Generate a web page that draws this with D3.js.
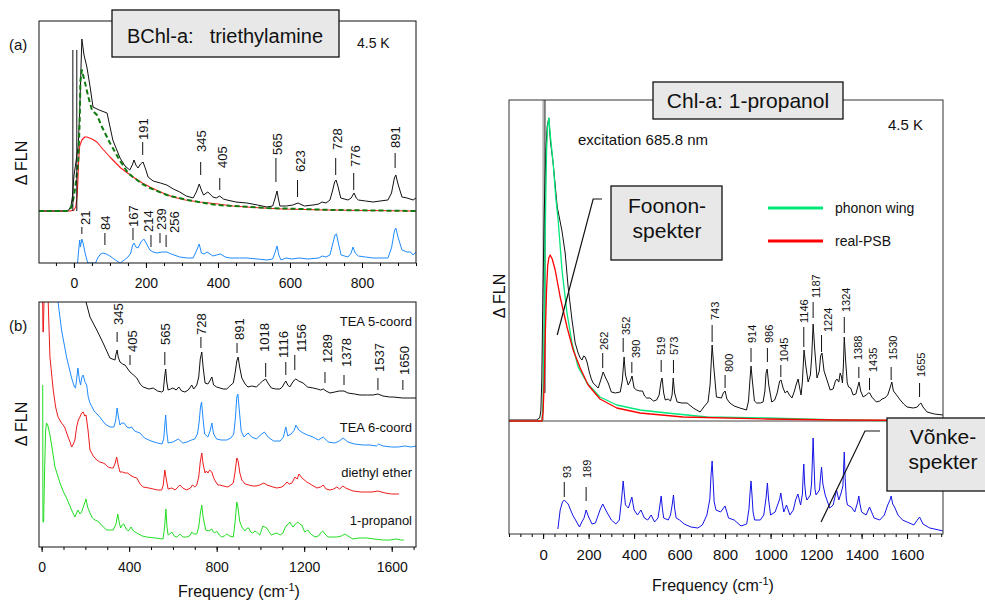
<!DOCTYPE html>
<html>
<head>
<meta charset="utf-8">
<script src="https://cdn.jsdelivr.net/npm/d3@7"></script>
<style>
body { margin: 0; background: #fff; }
</style>
</head>
<body>
<div id="figure"></div>
<script>
const font_family = 'Arial, "Liberation Sans", Helvetica, sans-serif';
const width = 985, height = 600;

// ---- panel (a): BChl-a in triethylamine, 4.5 K ----
const a_major_ticks = [0, 200, 400, 600, 800];
const a_zpl_lines = [-3, 8];
const a_zpl_height = 16.1;
const a_fln = [[-97,0],[-40,0],[-20,0],[-14,0.1],[-8,0.5],[-4,1.5],[0,3.5],[6,5],[12,6.5],[16,10],[22,17.2],[28,15.6],[36,14.4],[45,12.4],[53,10.4],[70,10.1],[92,9.8],[108,7.1],[118,6.2],[128,5.3],[142,4.5],[155,4.1],[162,4.6],[167,5.1],[172,4.6],[178,4.3],[185,4.7],[192,4.9],[199,4.2],[206,3.4],[220,3.0],[240,2.8],[258,2.6],[276,2.2],[294,1.9],[312,1.5],[331,1.3],[340,1.9],[348,2.7],[355,2.0],[360,1.6],[372,1.9],[386,1.4],[395,1.3],[405,1.5],[415,1.2],[425,1.1],[450,0.9],[480,0.8],[510,0.6],[536,0.4],[552,0.5],[558,1.2],[564,2.0],[568,1.2],[572,0.5],[590,0.5],[608,0.6],[622,0.8],[640,0.5],[664,0.6],[680,0.7],[689,0.9],[700,0.8],[711,1.1],[718,2.0],[724,2.9],[728,3.1],[733,2.5],[741,1.3],[761,1.1],[770,1.3],[778,1.8],[784,1.3],[790,1.1],[810,1.0],[831,0.9],[850,1.0],[872,1.1],[882,1.8],[890,3.3],[894,3.6],[900,2.7],[911,1.4],[925,1.3],[942,1.1],[950,1.3]];
const a_phonon_wing = [[-97,0],[-20,0],[-12,0.1],[-6,0.5],[0,1.5],[6,3],[12,5],[16,9],[18,13],[22,14.1],[31,12.8],[40,11.4],[50,10.1],[64,9.6],[78,8.4],[100,6.8],[114,5.9],[128,5.0],[136,4.6],[150,3.8],[164,3.4],[190,2.7],[211,2.3],[258,1.6],[314,1.1],[397,0.6],[536,0.3],[722,0.1],[950,0]];
const a_real_psb = [[-97,0],[-10,0],[0,0.1],[5,0.4],[9,1.5],[11,3],[13,5],[16,6.5],[22,7.1],[30,7.4],[36,7.4],[50,7.2],[64,6.9],[80,6.2],[100,5.4],[130,4.3],[164,3.4],[190,2.8],[211,2.4],[240,1.9],[275,1.4],[310,1.1],[350,0.9],[400,0.7],[442,0.5],[500,0.35],[581,0.2],[700,0.1],[950,0]];
const a_vibronic_offset = -5.2;
const a_vibronic = [[10,0],[13,1.2],[16,2.3],[18,1.6],[22,2.4],[26,1.9],[31,1.0],[36,0.3],[39,0],[60,0],[66,0.5],[74,0.9],[81,1.0],[90,0.9],[100,0.7],[115,0.3],[128,0],[140,0.3],[150,0.6],[158,1.0],[163,1.8],[167,2.0],[172,1.6],[178,1.5],[186,2.1],[194,2.4],[202,1.9],[211,1.3],[220,1.1],[231,1.0],[245,1.1],[258,1.1],[270,0.9],[294,0.6],[315,0.5],[331,0.5],[340,1.2],[348,1.9],[354,1.0],[361,0.9],[370,1.1],[386,0.7],[396,0.8],[407,0.9],[420,0.6],[433,0.5],[460,0.5],[480,0.5],[510,0.4],[536,0.3],[552,0.4],[559,1.1],[564,1.7],[569,0.8],[575,0.3],[589,0.5],[605,0.4],[625,0.5],[650,0.4],[680,0.5],[690,0.7],[700,0.6],[711,0.8],[718,1.8],[725,2.8],[729,2.9],[735,1.9],[742,0.8],[761,0.6],[770,1.0],[775,1.6],[781,1.0],[790,0.7],[810,0.6],[831,0.5],[850,0.5],[872,0.5],[882,1.5],[890,3.2],[894,3.5],[900,2.6],[911,1.3],[925,1.1],[935,1.1],[942,0.8],[950,1.1]];
// [label, line freq, text freq, text level, line top, line bottom]
const a_peak_labels = [
  ['191',191,194,7.1,6.9,5.6],['345',352,355,5.9,4.9,3.6],['405',405,413,4.3,3.3,2.1],
  ['565',561,565,5.6,5.3,2.9],['623',621,628,3.9,3.1,1.4],['728',727,731,6.1,5.3,3.6],
  ['776',777,782,4.4,3.8,2.1],['891',892,894,6.3,5.8,4.3],
  ['21',22,31,-1.4,-1.6,-2.3],['84',86,88,-1.9,-2.2,-3.4],['167',164,166,-1.6,-1.7,-2.9],
  ['214',214,206,-2.1,-2.4,-3.6],['239',239,244,-1.9,-2.2,-3.2],['256',256,280,-2.2,-2.4,-3.6]
];

// ---- panel (b): BChl-a in four solvents ----
const b_major_ticks = [0, 400, 800, 1200, 1600];
const b_solvents = ['TEA 5-coord', 'TEA 6-coord', 'diethyl ether', '1-propanol'];
const b_tea5 = [[196,26],[203,24.5],[221,23],[252,21.7],[281,20.4],[312,18.9],[335,18.7],[340,19.3],[345,19.7],[350,19.0],[358,18.5],[370,18.3],[381,18.2],[404,17.5],[420,17.2],[435,16.9],[450,16.3],[464,16.0],[490,15.8],[510,15.9],[530,15.6],[549,15.5],[556,15.6],[562,17.0],[567,17.8],[572,16.5],[578,15.7],[590,15.8],[600,15.9],[615,15.7],[627,16.0],[640,15.6],[655,15.5],[670,15.7],[680,16.0],[686,16.2],[695,15.8],[709,16.2],[718,17.0],[725,18.8],[732,19.5],[738,18.0],[747,16.4],[760,16.3],[771,16.7],[778,17.0],[786,16.2],[800,16.0],[815,15.9],[830,15.8],[846,15.8],[860,16.1],[876,16.4],[885,17.5],[892,18.6],[898,19.0],[905,18.0],[915,16.9],[930,16.3],[943,16.0],[960,16.1],[982,16.0],[995,16.3],[1010,16.6],[1024,16.8],[1037,16.3],[1050,15.9],[1070,15.8],[1089,15.8],[1100,16.0],[1110,16.4],[1116,16.6],[1125,16.2],[1134,16.0],[1145,16.4],[1155,16.7],[1162,16.8],[1175,16.6],[1195,16.4],[1215,16.0],[1241,15.9],[1260,15.8],[1275,15.7],[1287,15.8],[1300,15.6],[1318,15.4],[1340,15.5],[1360,15.6],[1382,15.6],[1400,15.4],[1430,15.3],[1455,15.2],[1490,15.2],[1515,15.2],[1537,15.3],[1560,15.1],[1590,15.0],[1607,15.0],[1650,14.9],[1680,14.9],[1711,14.9]];
const b_tea6 = [[70,26],[75,24.5],[91,21.7],[114,19.0],[137,16.9],[150,16.0],[155,15.9],[160,16.8],[166,17.9],[172,16.8],[178,16.2],[184,17.0],[190,17.2],[198,16.5],[206,16.2],[213,15.0],[221,14.4],[240,13.6],[266,13.0],[290,12.3],[312,12.0],[330,12.0],[338,12.6],[345,13.9],[351,13.0],[358,12.2],[366,12.4],[376,12.4],[390,12.0],[400,11.9],[411,12.0],[425,11.6],[449,11.4],[470,10.9],[500,10.6],[530,10.4],[550,10.3],[558,10.8],[563,12.2],[567,13.2],[572,11.5],[578,10.4],[600,10.5],[625,10.8],[645,10.4],[665,10.5],[685,10.7],[700,10.8],[712,11.3],[720,12.5],[726,14.0],[731,14.5],[737,13.0],[745,11.3],[760,11.0],[770,11.6],[778,12.4],[786,11.3],[800,10.8],[820,10.7],[846,10.7],[865,10.9],[878,11.3],[886,13.0],[892,15.0],[897,15.3],[903,13.8],[912,11.6],[925,11.0],[943,11.4],[960,11.0],[982,10.8],[1000,11.2],[1018,11.5],[1035,11.0],[1060,10.6],[1090,10.6],[1105,11.0],[1116,12.0],[1125,11.1],[1140,11.3],[1155,11.7],[1162,12.2],[1175,11.7],[1195,11.4],[1215,11.2],[1240,11.0],[1265,10.7],[1287,11.0],[1310,10.5],[1340,10.4],[1360,10.6],[1378,10.9],[1400,10.5],[1430,10.3],[1470,10.2],[1500,10.2],[1530,10.1],[1540,10.3],[1560,10.1],[1600,10.0],[1630,10.0],[1660,10.1],[1690,10.0],[1711,10.1]];
const b_ether = [[4,26],[6,21.5],[8,21.5],[12,26],[26,26],[30,24.5],[38,19.0],[47,17],[53,15.7],[64,14.0],[75,13.0],[91,12.4],[105,12.0],[121,11.0],[130,10.5],[137,10.0],[145,10.3],[152,10.7],[160,12.0],[168,12.7],[175,13.0],[183,13.4],[190,13.5],[197,13.1],[203,13.2],[212,11.7],[221,9.7],[236,9.1],[252,8.7],[266,8.5],[281,8.4],[290,8.3],[304,8.0],[320,7.9],[327,7.9],[335,8.3],[343,9.0],[350,8.2],[358,7.5],[370,7.5],[381,7.4],[393,7.4],[404,7.2],[420,7.0],[435,6.9],[450,6.3],[464,6.0],[490,5.9],[510,5.8],[530,5.7],[549,5.7],[556,6.2],[563,7.7],[568,7.0],[578,5.8],[595,5.9],[610,5.7],[632,6.2],[645,5.9],[663,5.7],[680,5.9],[690,6.2],[700,6.0],[709,6.2],[718,7.0],[725,8.5],[732,9.4],[738,8.3],[747,7.4],[753,7.6],[760,7.4],[768,7.7],[778,7.5],[785,7.0],[791,6.7],[805,6.2],[814,6.2],[830,6.1],[851,6.0],[865,6.2],[876,6.4],[884,7.5],[892,8.9],[898,8.6],[906,7.4],[915,6.7],[930,6.3],[947,6.2],[965,6.1],[980,6.1],[997,6.2],[1016,6.4],[1030,6.2],[1057,6.0],[1075,5.9],[1098,6.0],[1110,6.2],[1121,6.5],[1132,6.3],[1144,6.4],[1158,7.0],[1168,6.8],[1176,7.3],[1190,6.9],[1212,6.5],[1235,6.2],[1258,5.9],[1275,6.0],[1287,6.2],[1300,5.8],[1318,5.7],[1335,5.8],[1349,6.0],[1362,5.8],[1377,6.1],[1390,5.9],[1423,5.6],[1460,5.5],[1486,5.5],[1510,5.5],[1537,5.6],[1570,5.4],[1600,5.3],[1633,5.3]];
const b_propanol = [[5,16.2],[6,2.5],[9,2.5],[14,8],[18,11.5],[22,12.4],[28,12.2],[38,11.2],[47,10.0],[61,8.0],[84,6.4],[100,5.5],[114,4.9],[137,3.7],[152,3.0],[160,3.4],[166,3.7],[175,3.3],[183,3.5],[195,4.3],[203,4.8],[210,4.0],[221,3.4],[232,2.9],[244,2.7],[255,2.6],[266,2.4],[282,2.0],[298,1.7],[315,1.7],[327,1.7],[340,2.3],[348,3.3],[355,2.4],[361,1.9],[368,2.2],[376,2.3],[386,1.8],[396,1.6],[409,2.0],[420,1.6],[435,1.4],[460,1.1],[480,1.0],[520,0.9],[555,0.8],[562,2.0],[568,3.8],[573,2.0],[578,1.2],[586,1.3],[595,1.5],[606,1.1],[618,1.0],[632,1.3],[645,1.0],[663,1.0],[676,1.1],[686,1.5],[695,1.3],[709,1.3],[718,2.0],[725,3.3],[732,4.2],[738,3.0],[750,1.7],[765,1.6],[778,1.8],[785,1.5],[791,1.4],[800,1.6],[812,1.2],[823,1.0],[835,1.1],[846,1.3],[860,1.1],[876,1.0],[884,2.5],[892,4.5],[897,4.0],[905,2.6],[915,2.0],[929,1.6],[940,1.9],[947,1.9],[955,1.5],[965,1.4],[975,1.6],[982,1.5],[997,1.2],[1005,1.7],[1011,2.1],[1020,2.0],[1029,1.9],[1040,1.5],[1050,1.2],[1062,1.3],[1075,1.4],[1090,1.2],[1103,1.4],[1112,1.9],[1121,2.2],[1128,2.3],[1134,2.5],[1142,2.2],[1149,2.0],[1160,2.3],[1171,2.5],[1180,2.3],[1189,2.2],[1196,1.8],[1203,1.5],[1210,1.6],[1217,1.7],[1230,1.3],[1249,1.0],[1265,1.1],[1279,1.5],[1285,1.6],[1295,1.3],[1309,1.0],[1330,1.0],[1349,1.0],[1370,1.1],[1386,1.3],[1400,1.1],[1423,0.8],[1450,0.9],[1486,0.9],[1520,0.8],[1560,0.7],[1590,0.7],[1623,0.8],[1640,0.7],[1655,0.7]];
const b_solvent_label_levels = [22.1, 11.5, 7.0, 2.2];
const b_peak_labels = [
  ['345',345,349,22.2,21.5,20.5],['405',404,417,19.5,19.2,18.2],['565',563,567,20.2,19.5,18.2],
  ['728',728,732,21.2,21.0,19.9],['891',893,903,20.7,20.4,19.4],['1018',1024,1020,19.5,18.4,17.0],
  ['1116',1116,1103,18.9,18.5,17.2],['1156',1157,1189,19.5,19.2,17.7],['1289',1295,1304,18.4,17.5,16.4],
  ['1378',1382,1395,18.0,17.2,16.2],['1537',1537,1546,17.5,16.9,15.7],['1650',1651,1656,17.2,16.7,15.7]
];

// ---- right panel: Chl-a in 1-propanol ----
const r_major_ticks = [0, 200, 400, 600, 800, 1000, 1200, 1400, 1600];
const r_upper_offset = 11.3;
const r_zpl_bottom = 2.8;
const r_fln = [[-150,0.1],[-30,0.1],[-15,0.3],[-10,1],[-6,4],[-3,9],[0,14],[5,21],[12,27],[18,29.5],[25,30.3],[32,28],[44,25.8],[62,21.4],[70,20.5],[83,19.0],[97,16.8],[110,13.4],[127,10.1],[141,7.8],[154,6.8],[163,6.3],[171,6.1],[178,6.5],[185,6.4],[193,5.9],[203,4.9],[212,4.2],[220,3.8],[242,3.3],[252,4.0],[264,4.9],[275,4.3],[286,3.8],[300,2.9],[317,2.8],[339,2.9],[348,4.0],[356,6.4],[362,4.6],[374,3.6],[383,4.0],[391,4.5],[400,3.3],[411,3.1],[425,3.0],[437,3.0],[446,2.5],[455,2.3],[470,2.3],[485,2.0],[499,2.1],[510,2.6],[518,3.9],[523,4.3],[530,2.8],[537,2.1],[550,2.2],[560,2.0],[567,2.6],[572,4.3],[578,2.8],[589,1.9],[610,1.8],[633,1.8],[660,1.3],[690,0.9],[710,1.5],[725,1.9],[734,3.6],[743,7.6],[750,5.5],[762,2.4],[784,2.3],[792,2.8],[800,3.0],[808,2.2],[821,1.8],[840,1.5],[865,1.3],[894,1.1],[903,2.0],[909,4.0],[914,5.5],[920,4.0],[929,2.0],[939,1.8],[955,1.8],[967,1.9],[975,3.0],[980,4.8],[985,5.2],[992,3.6],[1005,1.9],[1018,2.1],[1029,2.8],[1040,4.0],[1046,4.1],[1055,3.3],[1064,2.8],[1073,3.0],[1083,2.6],[1094,2.3],[1105,3.0],[1112,3.6],[1121,4.2],[1128,3.3],[1134,2.6],[1140,4.0],[1147,7.1],[1155,5.5],[1165,3.9],[1175,4.6],[1181,6.5],[1187,9.7],[1194,7.2],[1204,4.3],[1214,5.0],[1220,6.5],[1226,6.8],[1235,5.0],[1248,4.1],[1262,3.1],[1275,3.2],[1285,4.0],[1292,4.2],[1300,3.9],[1306,4.8],[1312,4.4],[1316,3.8],[1320,5.5],[1324,8.4],[1330,6.0],[1337,3.8],[1343,3.4],[1352,3.3],[1363,2.6],[1375,2.7],[1382,3.3],[1389,3.9],[1396,3.0],[1407,2.4],[1420,2.6],[1430,2.8],[1436,2.8],[1445,2.4],[1465,1.9],[1480,2.0],[1490,2.2],[1502,2.3],[1515,2.6],[1525,3.3],[1533,3.9],[1540,3.0],[1554,2.6],[1570,2.1],[1585,1.7],[1600,1.4],[1627,1.3],[1645,1.4],[1655,1.7],[1661,1.8],[1670,1.4],[1688,0.9],[1720,0.7],[1758,0.6]];
const r_phonon_wing = [[-150,0],[-5,0],[0,2],[5,10],[10,20],[15,27],[20,29.5],[25,30.3],[32,28.5],[44,25.8],[55,22.5],[66,20.1],[83,15.1],[105,10.8],[127,7.8],[154,5.4],[193,3.8],[250,2.4],[324,1.6],[426,1.1],[545,0.8],[721,0.4],[985,0.3],[1300,0.1],[1758,0]];
const r_real_psb = [[-150,0],[-5,0],[0,1],[5,4],[10,9],[15,13],[20,15.5],[25,16.3],[31,16.6],[40,16.2],[53,15.1],[75,12.4],[105,9.4],[132,7.1],[163,5.3],[198,3.6],[250,2.2],[324,1.3],[426,0.8],[615,0.4],[985,0.2],[1300,0.1],[1758,0.05]];
const r_vibronic = [[65,0.5],[75,2.4],[85,3.2],[93,3.4],[110,3.0],[130,1.9],[150,1.1],[160,0.7],[170,1.2],[180,1.6],[189,2.4],[200,1.7],[215,1.0],[230,1.1],[250,2.4],[262,3.0],[280,2.2],[300,1.4],[320,1.0],[335,1.4],[345,3.5],[352,5.3],[358,3.8],[362,2.9],[375,2.6],[390,3.7],[400,2.4],[415,1.9],[430,2.4],[445,1.6],[460,1.4],[475,1.9],[490,1.2],[505,1.6],[513,2.8],[519,3.8],[524,2.6],[530,1.6],[550,1.4],[560,1.9],[568,3.0],[573,3.9],[578,2.6],[585,1.6],[600,1.4],[620,1.0],[650,0.7],[680,0.6],[700,0.9],[720,1.9],[733,3.5],[738,5.8],[743,7.3],[747,5.5],[752,3.2],[760,2.4],[780,2.2],[800,2.8],[815,1.6],[840,1.4],[870,0.8],[895,1.0],[905,2.5],[910,4.2],[914,5.3],[918,4.0],[923,2.2],[930,1.4],[955,1.4],[970,1.9],[980,3.6],[986,5.1],[991,3.5],[1000,1.9],[1020,2.2],[1040,3.5],[1045,4.1],[1052,3.0],[1058,2.2],[1070,2.9],[1085,1.9],[1100,2.4],[1110,3.4],[1120,4.0],[1132,2.9],[1140,4.0],[1143,5.8],[1146,7.0],[1150,5.0],[1155,3.8],[1160,3.4],[1175,3.9],[1180,5.0],[1184,7.5],[1187,9.6],[1191,7.0],[1195,4.5],[1200,3.9],[1215,4.4],[1220,5.8],[1224,6.7],[1230,5.0],[1240,3.9],[1260,2.6],[1275,2.9],[1290,4.4],[1300,3.4],[1310,4.1],[1318,4.8],[1321,6.5],[1324,8.2],[1328,5.5],[1333,3.5],[1338,2.9],[1355,2.7],[1370,2.2],[1383,3.2],[1388,3.8],[1393,3.0],[1400,2.2],[1420,1.9],[1435,2.7],[1455,1.6],[1480,1.4],[1500,1.9],[1515,2.9],[1525,3.4],[1530,3.8],[1537,3.0],[1545,2.7],[1560,1.9],[1580,1.4],[1600,1.2],[1630,0.9],[1645,1.4],[1655,1.7],[1670,1.0],[1700,0.6],[1740,0.4],[1758,0.3]];
const r_peak_labels = [
  ['262',262,269,18.4,18.1,16.6],['352',352,364,19.9,19.6,18.2],['390',390,409,17.6,17.2,16.1],
  ['519',519,519,17.9,17.4,16.2],['573',573,577,17.9,17.4,16.1],['743',743,755,21.4,20.9,19.2],
  ['800',800,819,16.2,15.9,14.6],['914',914,917,19.1,18.6,17.2],['986',986,993,19.1,18.6,17.2],
  ['1045',1045,1060,17.2,16.9,15.7],['1146',1146,1146,21.1,20.7,18.7],['1187',1187,1199,23.6,23.2,21.6],
  ['1224',1224,1253,20.2,19.9,18.2],['1324',1324,1334,22.2,21.7,20.1],['1388',1388,1384,17.4,16.7,15.6],
  ['1435',1435,1450,16.2,15.6,14.4],['1530',1530,1537,17.4,16.7,15.4],['1655',1655,1662,15.7,15.1,13.7],
  ['93',93,105,5.6,5.2,3.7],['189',189,195,5.6,4.7,3.3]
];
const r_legend = ['phonon wing', 'real-PSB'];
// pointer polylines in [freq, level]
const r_phonon_pointer = [[259,33.5],[220,33.5],[62,19.9]];
const r_vibronic_pointer = [[1481,10.3],[1415,10.3],[1222,1.2]];

const panel_a = {left: 39, right: 416, top: 21, bottom: 263};
const panel_b = {left: 39, right: 416, top: 302, bottom: 547};
const panel_r = {left: 509, right: 943, top: 100, bottom: 534};

const xA = d3.scaleLinear().domain([-97, 950]).range([panel_a.left, panel_a.right]);
const yA = d3.scaleLinear().domain([-5.2, 19]).range([panel_a.bottom, panel_a.top]);
const xB = d3.scaleLinear().domain([-12, 1711]).range([panel_b.left, panel_b.right]);
const yB = d3.scaleLinear().domain([0, 24.5]).range([panel_b.bottom, panel_b.top]);
const xR = d3.scaleLinear().domain([-150, 1758]).range([panel_r.left, panel_r.right]);
const yR = d3.scaleLinear().domain([0, 43.4]).range([panel_r.bottom, panel_r.top]);

const svg = d3.select('#figure').append('svg')
    .attr('width', width)
    .attr('height', height)
    .style('font-family', font_family);

function addText(x, y, str, size, anchor) {
    return svg.append('text')
        .attr('x', x).attr('y', y)
        .attr('font-size', size)
        .attr('text-anchor', anchor || 'start')
        .attr('fill', '#111')
        .text(str);
}

function makeClip(id, p) {
    svg.append('clipPath').attr('id', id)
        .append('rect')
        .attr('x', p.left).attr('y', p.top)
        .attr('width', p.right - p.left).attr('height', p.bottom - p.top);
    return svg.append('g').attr('clip-path', `url(#${id})`);
}

function drawFrame(p, color) {
    svg.append('rect')
        .attr('x', p.left).attr('y', p.top)
        .attr('width', p.right - p.left).attr('height', p.bottom - p.top)
        .attr('fill', 'none').attr('stroke', color).attr('stroke-width', 1);
}

function drawXAxis(p, xScale, minor, major, fontSize) {
    svg.append('g')
        .attr('transform', `translate(0,${p.bottom})`)
        .call(d3.axisBottom(xScale).tickValues(minor).tickSize(3).tickFormat(''))
        .call(g => g.select('.domain').remove());
    svg.append('g')
        .attr('transform', `translate(0,${p.bottom})`)
        .call(d3.axisBottom(xScale).tickValues(major).tickSize(5).tickPadding(10).tickFormat(d3.format('d')))
        .attr('font-family', font_family)
        .attr('font-size', fontSize)
        .call(g => g.select('.domain').remove())
        .call(g => g.selectAll('text').attr('fill', '#111'));
}

function drawCurve(g, data, xScale, yScale, offset, color, strokeWidth, dash) {
    const line = d3.line()
        .x(d => xScale(d[0]))
        .y(d => yScale(d[1] + offset));
    g.append('path')
        .datum(data)
        .attr('d', line)
        .attr('fill', 'none')
        .attr('stroke', color)
        .attr('stroke-width', strokeWidth)
        .attr('stroke-linejoin', 'round')
        .attr('stroke-dasharray', dash || null);
}

function drawPeakLabels(labels, xScale, yScale, fontSize) {
    labels.forEach(d => {
        const lx = xScale(d[1]);
        svg.append('line')
            .attr('x1', lx).attr('x2', lx)
            .attr('y1', yScale(d[4])).attr('y2', yScale(d[5]))
            .attr('stroke', '#111').attr('stroke-width', 1);
        const tx = xScale(d[2]), ty = yScale(d[3]);
        svg.append('text')
            .attr('transform', `translate(${tx},${ty}) rotate(-90)`)
            .attr('dy', '0.35em')
            .attr('font-size', fontSize)
            .attr('fill', '#111')
            .text(d[0]);
    });
}

function yLabel(x, y) {
    svg.append('text')
        .attr('transform', `translate(${x},${y}) rotate(-90)`)
        .attr('text-anchor', 'middle')
        .attr('font-size', 16)
        .attr('fill', '#111')
        .text('\u0394 FLN');
}

function freqLabel(x, y) {
    const t = svg.append('text')
        .attr('x', x).attr('y', y)
        .attr('text-anchor', 'middle')
        .attr('font-size', 16)
        .attr('fill', '#111');
    t.append('tspan').text('Frequency (cm');
    t.append('tspan').attr('font-size', 11).attr('dy', -6).text('-1');
    t.append('tspan').attr('dy', 6).text(')');
}

function boxRect(x, y, w, h) {
    svg.append('rect')
        .attr('x', x).attr('y', y).attr('width', w).attr('height', h)
        .attr('fill', '#e8e8e8').attr('stroke', '#111').attr('stroke-width', 1.3);
}

function titleBox(x, y, w, h, lines, size, baselines, textX) {
    boxRect(x, y, w, h);
    lines.forEach((s, i) => {
        addText(textX, baselines[i], s, size, 'middle');
    });
}

function drawPanelA() {
    const g = makeClip('clipA', panel_a);
    drawCurve(g, a_real_psb, xA, yA, 0, '#ff1a1a', 1.1);
    drawCurve(g, a_fln, xA, yA, 0, '#111', 1);
    drawCurve(g, a_phonon_wing, xA, yA, 0, '#0f7a0f', 2, '5,3');
    a_zpl_lines.forEach(f => {
        g.append('line')
            .attr('x1', xA(f)).attr('x2', xA(f))
            .attr('y1', yA(0)).attr('y2', yA(a_zpl_height))
            .attr('stroke', '#111').attr('stroke-width', 1);
    });
    drawCurve(g, a_vibronic, xA, yA, a_vibronic_offset, '#1f8bff', 1);
    drawFrame(panel_a, '#111');
    drawXAxis(panel_a, xA, d3.range(-50, 951, 50), a_major_ticks, 14);
    drawPeakLabels(a_peak_labels, xA, yA, 13);

    boxRect(112, 10, 227, 47);
    const title = addText(225, 43, 'BChl-a:', 20, 'middle');
    title.append('tspan').attr('dx', 16).text('triethylamine');

    addText(357, 48, '4.5 K', 14);
    addText(9, 50, '(a)', 15);
    yLabel(27, 163);
}

function drawPanelB() {
    const g = makeClip('clipB', panel_b);
    drawCurve(g, b_tea5, xB, yB, 0, '#111', 1);
    drawCurve(g, b_tea6, xB, yB, 0, '#1f8bff', 1);
    drawCurve(g, b_ether, xB, yB, 0, '#ee1c1c', 1);
    drawCurve(g, b_propanol, xB, yB, 0, '#22dd22', 1);
    drawFrame(panel_b, '#111');
    drawXAxis(panel_b, xB, d3.range(0, 1701, 100), b_major_ticks, 14);
    drawPeakLabels(b_peak_labels, xB, yB, 13);
    b_solvents.forEach((s, i) => {
        addText(412, yB(b_solvent_label_levels[i]), s, 13, 'end');
    });
    addText(9, 331, '(b)', 15);
    yLabel(27, 424);
    freqLabel(239, 597);
}

function drawPanelR() {
    const g = makeClip('clipR', panel_r);
    // zero line of the upper trace and the laser line
    g.append('line')
        .attr('x1', panel_r.left).attr('x2', panel_r.right)
        .attr('y1', yR(r_upper_offset)).attr('y2', yR(r_upper_offset))
        .attr('stroke', '#444').attr('stroke-width', 1);
    g.append('line')
        .attr('x1', xR(0)).attr('x2', xR(0))
        .attr('y1', panel_r.top).attr('y2', yR(r_upper_offset))
        .attr('stroke', '#888').attr('stroke-width', 1);
    g.append('line')
        .attr('x1', xR(8)).attr('x2', xR(8))
        .attr('y1', panel_r.top).attr('y2', yR(r_upper_offset + r_zpl_bottom))
        .attr('stroke', '#111').attr('stroke-width', 1);
    drawCurve(g, r_fln, xR, yR, r_upper_offset, '#111', 1);
    drawCurve(g, r_phonon_wing, xR, yR, r_upper_offset, '#00e87a', 1.3);
    drawCurve(g, r_real_psb, xR, yR, r_upper_offset, '#ff0000', 1.3);
    drawCurve(g, r_vibronic, xR, yR, 0, '#1414e6', 1);
    drawFrame(panel_r, '#333');
    drawXAxis(panel_r, xR, d3.range(-150, 1751, 50), r_major_ticks, 15);
    drawPeakLabels(r_peak_labels, xR, yR, 11);

    titleBox(653, 82, 190, 37, ['Chl-a: 1-propanol'], 21, [108], 748);
    addText(888, 130, '4.5 K', 15);
    addText(578, 145, 'excitation 685.8 nm', 15);

    // legend
    const legend_colors = ['#00e87a', '#ff0000'];
    r_legend.forEach((s, i) => {
        const ly = 208 + i * 33;
        svg.append('line')
            .attr('x1', 768).attr('x2', 823).attr('y1', ly).attr('y2', ly)
            .attr('stroke', legend_colors[i]).attr('stroke-width', 3);
        addText(835, ly + 5, s, 14);
    });

    const pointer = d3.line().x(d => xR(d[0])).y(d => yR(d[1]));
    svg.append('path').attr('d', pointer(r_phonon_pointer))
        .attr('fill', 'none').attr('stroke', '#111').attr('stroke-width', 1.2);
    svg.append('path').attr('d', pointer(r_vibronic_pointer))
        .attr('fill', 'none').attr('stroke', '#111').attr('stroke-width', 1.2);
    titleBox(611, 186, 111, 74, ['Foonon-', 'spekter'], 21, [213, 238], 667);
    titleBox(887, 418, 110, 73, ['V\u00f5nke-', 'spekter'], 21, [444, 469], 943);

    yLabel(505, 296);
    freqLabel(713, 591);
}

function main() {
    drawPanelA();
    drawPanelB();
    drawPanelR();
}

main();
</script>
</body>
</html>
